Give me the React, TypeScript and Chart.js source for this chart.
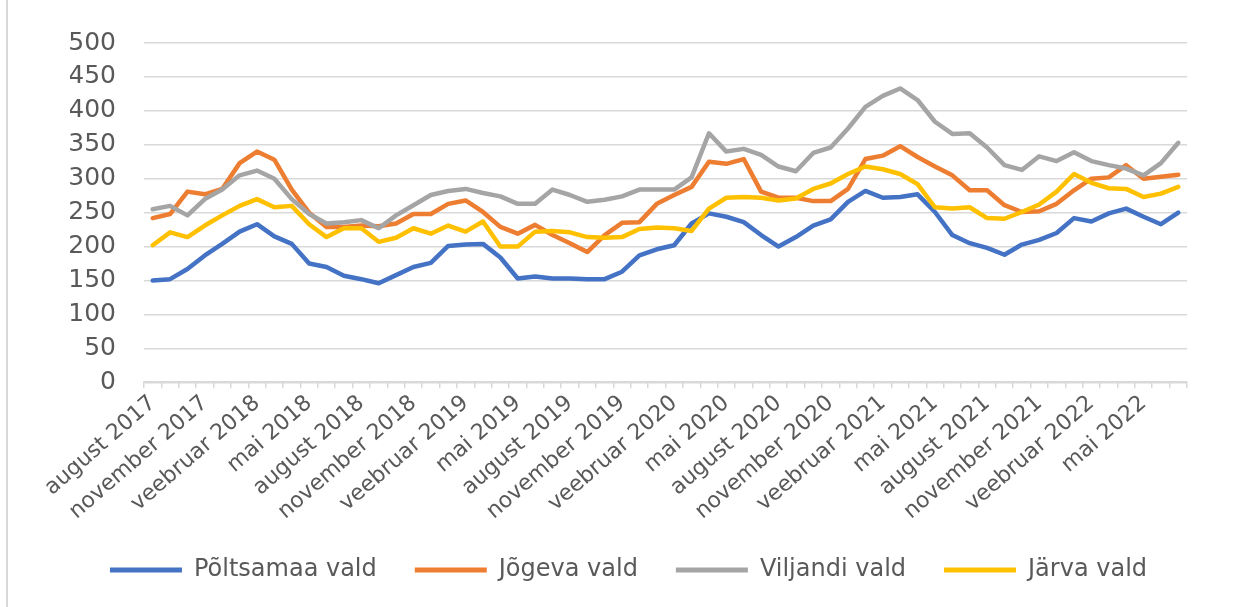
import React, { useEffect, useRef } from "react";
import { Chart, registerables } from "chart.js";

Chart.register(...registerables);

const months = ["jaanuar", "veebruar", "märts", "aprill", "mai", "juuni", "juuli", "august", "september", "oktoober", "november", "detsember"];
const startYear = 2017;
const startMonth = 7; // august
const categories: string[] = [];
for (let i = 0; i < 60; i++) {
  const m = (startMonth + i) % 12;
  const y = startYear + Math.floor((startMonth + i) / 12);
  categories.push(`${months[m]} ${y}`);
}

const poltsamaa = [150, 152, 167, 187, 204, 222, 233, 215, 204, 175, 170, 157, 152, 146, 158, 170, 176, 201, 203, 204, 184, 153, 156, 153, 153, 152, 152, 163, 187, 196, 202, 234, 249, 244, 236, 217, 200, 214, 231, 240, 266, 282, 272, 273, 277, 251, 217, 205, 198, 188, 203, 210, 220, 242, 237, 249, 256, 244, 233, 250];
const jogeva = [242, 248, 281, 277, 285, 323, 340, 328, 284, 250, 229, 229, 231, 230, 234, 248, 248, 263, 268, 251, 229, 219, 232, 217, 205, 192, 217, 235, 236, 263, 276, 288, 325, 322, 329, 281, 272, 272, 267, 267, 285, 329, 334, 348, 332, 318, 305, 283, 283, 261, 251, 252, 263, 283, 300, 302, 320, 300, 303, 306];
const viljandi = [255, 260, 246, 270, 284, 305, 312, 300, 270, 248, 234, 236, 239, 227, 246, 261, 276, 282, 285, 279, 274, 263, 263, 284, 276, 266, 269, 274, 284, 284, 284, 302, 367, 340, 344, 335, 318, 311, 338, 346, 374, 406, 422, 433, 416, 384, 366, 367, 346, 320, 313, 333, 326, 339, 326, 320, 315, 305, 323, 353];
const jarva = [202, 221, 214, 231, 246, 260, 270, 258, 260, 233, 214, 227, 227, 207, 213, 227, 219, 231, 222, 237, 200, 200, 222, 223, 221, 214, 213, 214, 226, 228, 227, 223, 256, 272, 273, 272, 268, 271, 285, 293, 307, 318, 314, 307, 292, 258, 256, 258, 242, 241, 251, 262, 281, 307, 294, 286, 285, 273, 278, 288];

const seriesNames = ["Põltsamaa vald", "Jõgeva vald", "Viljandi vald", "Järva vald"];
const seriesColors = ["#4472C4", "#ED7D31", "#A5A5A5", "#FFC000"];
const seriesData = [poltsamaa, jogeva, viljandi, jarva];

const FONT = "'DejaVu Sans', sans-serif";
const TEXT = "#595959";
const GRID = "#d9d9d9";

export default function App() {
  const ref = useRef<HTMLCanvasElement | null>(null);
  useEffect(() => {
    if (!ref.current) return;
    const chart = new Chart(ref.current, {
      type: "line",
      data: {
        labels: categories,
        datasets: seriesData.map((d, i) => ({
          label: seriesNames[i],
          data: d,
          borderColor: seriesColors[i],
          backgroundColor: seriesColors[i],
          borderWidth: 4.5,
          pointRadius: 0,
          tension: 0,
          borderJoinStyle: "round" as const,
          borderCapStyle: "round" as const,
          order: 4 - i,
        })),
      },
      options: {
        animation: false,
        responsive: true,
        maintainAspectRatio: false,
        layout: { padding: { top: 42, right: 46, bottom: 15, left: 70 } },
        plugins: {
          tooltip: { enabled: false },
          legend: {
            position: "bottom",
            labels: {
              font: { family: FONT, size: 24 },
              color: TEXT,
              boxWidth: 72,
              boxHeight: 5,
              padding: 38,
              useBorderRadius: true,
              borderRadius: 2.5,
              sort: (a: any, b: any) => a.datasetIndex - b.datasetIndex,
              generateLabels: (c: any) =>
                c.data.datasets.map((ds: any, i: number) => ({
                  text: ds.label,
                  fillStyle: ds.borderColor,
                  strokeStyle: ds.borderColor,
                  lineWidth: 0,
                  fontColor: TEXT,
                  datasetIndex: i,
                  hidden: false,
                })),
            },
          },
        },
        scales: {
          x: {
            type: "category",
            offset: true,
            afterFit: (s: any) => {
              s.height = s.height - 7;
            },
            grid: {
              offset: true,
              drawOnChartArea: false,
              drawTicks: true,
              tickLength: 6,
              color: GRID,
              lineWidth: 1.5,
            },
            border: { color: GRID, width: 2 },
            ticks: {
              autoSkip: false,
              maxRotation: 41,
              minRotation: 41,
              padding: 2,
              color: TEXT,
              font: { family: FONT, size: 22 },
              callback: (_v: any, i: number) => (i % 3 === 0 ? categories[i] : ""),
            },
          },
          y: {
            min: 0,
            max: 500,
            afterFit: (s: any) => {
              s.width = 74;
            },
            grid: { color: GRID, lineWidth: 1.5, drawTicks: false },
            border: { display: false },
            ticks: {
              stepSize: 50,
              padding: 28,
              color: TEXT,
              font: { family: FONT, size: 25 },
            },
          },
        },
      },
    });
    return () => chart.destroy();
  }, []);
  return (
    <div style={{ position: "fixed", left: 0, top: 0, width: 1233, height: 607, background: "#fff" }}>
      <div style={{ position: "absolute", left: 6, top: 0, width: 2, height: 607, background: GRID }} />
      <canvas ref={ref} />
    </div>
  );
}
